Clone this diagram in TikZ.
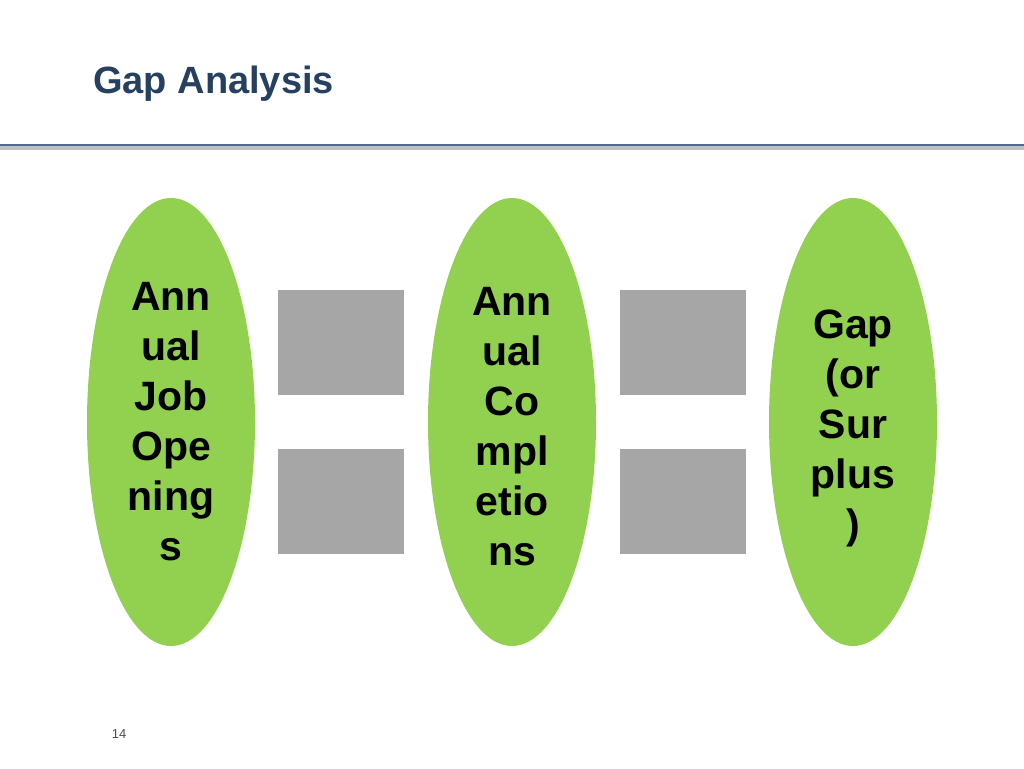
\documentclass[tikz,border=0pt]{standalone}
\usepackage{fontspec}
\setmainfont{Liberation Sans}
\usetikzlibrary{shapes.geometric}
\definecolor{leafgreen}{HTML}{92D050}
\definecolor{boxgray}{HTML}{A6A6A6}
\definecolor{titleblue}{HTML}{254061}
\definecolor{rulegray}{HTML}{4F6A8F}
\begin{document}
\begin{tikzpicture}[x=1pt,y=-1pt]
\tikzset{stage/.style={ellipse,fill=leafgreen,minimum width=168pt,minimum height=448pt,inner sep=0pt},
  stagetext/.style={align=center,inner sep=0pt,font=\fontsize{41}{50}\selectfont\bfseries},
  block/.style={fill=boxgray,draw=none}}
\useasboundingbox (0,0) rectangle (1024,768);

\node[anchor=west,inner sep=0pt,text=titleblue,font=\fontsize{38}{44}\selectfont\bfseries] (title) at (93,84) {Gap Analysis};
\fill[black!25] (0,146) rectangle (1024,150);
\draw[rulegray,line width=2pt] (0,145) -- (1024,145);

\node[stage] (jobs) at (171,422) {};
\node[stage] (comp) at (512,422) {};
\node[stage] (gap) at (853,422) {};
\node[stagetext] (jobs text) at (171,422) {Ann\\ual\\Job\\Ope\\ning\\s};
\node[stagetext] (comp text) at (512,427) {Ann\\ual\\Co\\mpl\\etio\\ns};
\node[stagetext] (gap text) at (853,428) {Gap\\(or\\Sur\\plus\\)};

\fill[block] (278,290) rectangle (404,395);
\fill[block] (278,449) rectangle (404,554);
\fill[block] (620,290) rectangle (746,395);
\fill[block] (620,449) rectangle (746,554);

\node[font=\fontsize{13}{15}\selectfont,text=black!70] (page) at (119,734) {14};
\end{tikzpicture}
\end{document}
